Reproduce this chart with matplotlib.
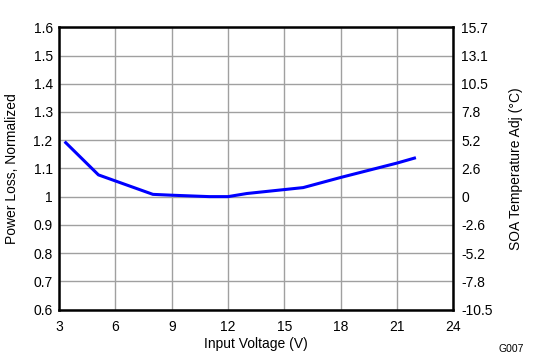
import matplotlib
matplotlib.use("Agg")
import matplotlib.pyplot as plt

plt.rcParams['font.family'] = ['Liberation Sans', 'DejaVu Sans']

voltage = [3.3, 5.1, 8.0, 9.0, 11.0, 12.0, 13.0, 15.0, 16.0, 18.0, 21.0, 22.0]
power_loss = [1.195, 1.077, 1.008, 1.005, 1.0, 1.0, 1.011, 1.025, 1.032, 1.068, 1.119, 1.138]

x_ticks = [3, 6, 9, 12, 15, 18, 21, 24]
y_ticks = [0.6, 0.7, 0.8, 0.9, 1.0, 1.1, 1.2, 1.3, 1.4, 1.5, 1.6]
y_tick_labels = ["0.6", "0.7", "0.8", "0.9", "1", "1.1", "1.2", "1.3", "1.4", "1.5", "1.6"]
right_tick_labels = ["-10.5", "-7.8", "-5.2", "-2.6", "0", "2.6", "5.2", "7.8", "10.5", "13.1", "15.7"]

FS = 10

fig = plt.figure(figsize=(5.46, 3.6), dpi=100)
ax = fig.add_axes([59/546, 1 - 309.5/360, (453.5 - 59)/546, (309.5 - 27.3)/360])

ax.plot(voltage, power_loss, color='#0000FF', lw=2.2, solid_capstyle='butt')
ax.set_xlim(3, 24)
ax.set_ylim(0.6, 1.6)
ax.set_xticks(x_ticks)
ax.set_xticklabels([str(t) for t in x_ticks])
ax.set_yticks(y_ticks)
ax.set_yticklabels(y_tick_labels)
ax.grid(True, color='#a0a0a0', lw=1.0)
ax.set_axisbelow(True)
for s in ax.spines.values():
    s.set_linewidth(1.8)
    s.set_color('black')
ax.tick_params(axis='y', length=0, labelsize=FS, pad=4.5)
ax.tick_params(axis='x', length=0, labelsize=FS, pad=7.5)
ax.set_xlabel("Input Voltage (V)", fontsize=FS, labelpad=2)
ax.set_ylabel("Power Loss, Normalized", fontsize=FS, labelpad=10.5)

ax2 = ax.twinx()
ax2.set_ylim(0.6, 1.6)
ax2.set_yticks(y_ticks)
ax2.set_yticklabels(right_tick_labels)
ax2.tick_params(length=0, labelsize=FS, pad=5.5)
for s in ax2.spines.values():
    s.set_visible(False)
ax2.set_ylabel("SOA Temperature Adj (°C)", fontsize=FS, rotation=90, labelpad=11.5)

fig.text(511/546, 1 - 349/360, "G007", fontsize=7.5, ha='center', va='center')

fig.savefig("out.png", dpi=100)
